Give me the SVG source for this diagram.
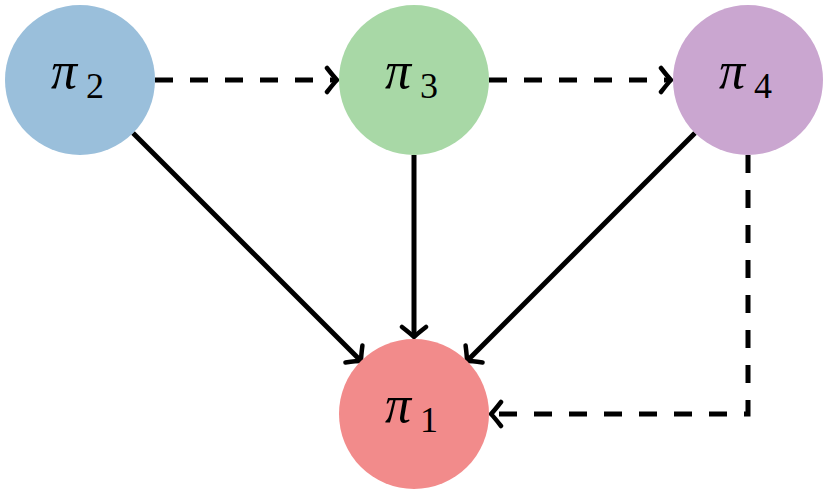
<svg xmlns="http://www.w3.org/2000/svg" width="829" height="495" viewBox="0 0 829 495">
<style>
.edge{fill:none;stroke:#000;stroke-width:5;stroke-linecap:butt}
.dash{stroke-dasharray:18 17}
.lbl{font-family:"Liberation Serif","DejaVu Serif",serif;font-size:52px;fill:#000}
.pi{font-style:italic}
.sub{font-size:36px}
</style>
<defs>
<marker id="ah" markerUnits="userSpaceOnUse" markerWidth="30" markerHeight="30" viewBox="-16 -15 20 30" refX="0" refY="0" orient="auto">
<path d="M -10 -12 Q -3 -3 0 0 Q -3 3 -10 12" fill="none" stroke="#000" stroke-width="4.5" stroke-linecap="round"/>
</marker>
</defs>
<rect width="829" height="495" fill="#fff"/>
<g id="connectors">
<line class="edge dash" x1="155" y1="80" x2="337" y2="80" marker-end="url(#ah)"/>
<line class="edge dash" x1="489" y1="80" x2="671" y2="80" marker-end="url(#ah)"/>
<line class="edge" x1="133" y1="133" x2="361" y2="361" marker-end="url(#ah)"/>
<line class="edge" x1="414" y1="155" x2="414" y2="337" marker-end="url(#ah)"/>
<line class="edge" x1="695" y1="133" x2="467" y2="361" marker-end="url(#ah)"/>
<polyline class="edge dash" points="748,155 748,414 491,414" marker-end="url(#ah)"/>
</g>
<g id="pi2">
<circle cx="80" cy="80" r="75" fill="#9abfdb"/>
<text class="lbl" x="51" y="88"><tspan class="pi">π</tspan><tspan class="sub" dx="9" dy="10">2</tspan></text>
</g>
<g id="pi3">
<circle cx="414" cy="80" r="75" fill="#a8d8a6"/>
<text class="lbl" x="385" y="88"><tspan class="pi">π</tspan><tspan class="sub" dx="9" dy="10">3</tspan></text>
</g>
<g id="pi4">
<circle cx="748" cy="80" r="75" fill="#caa6d0"/>
<text class="lbl" x="719" y="88"><tspan class="pi">π</tspan><tspan class="sub" dx="9" dy="10">4</tspan></text>
</g>
<g id="pi1">
<circle cx="414" cy="414" r="75" fill="#f28b8b"/>
<text class="lbl" x="385" y="422"><tspan class="pi">π</tspan><tspan class="sub" dx="9" dy="10">1</tspan></text>
</g>
</svg>
